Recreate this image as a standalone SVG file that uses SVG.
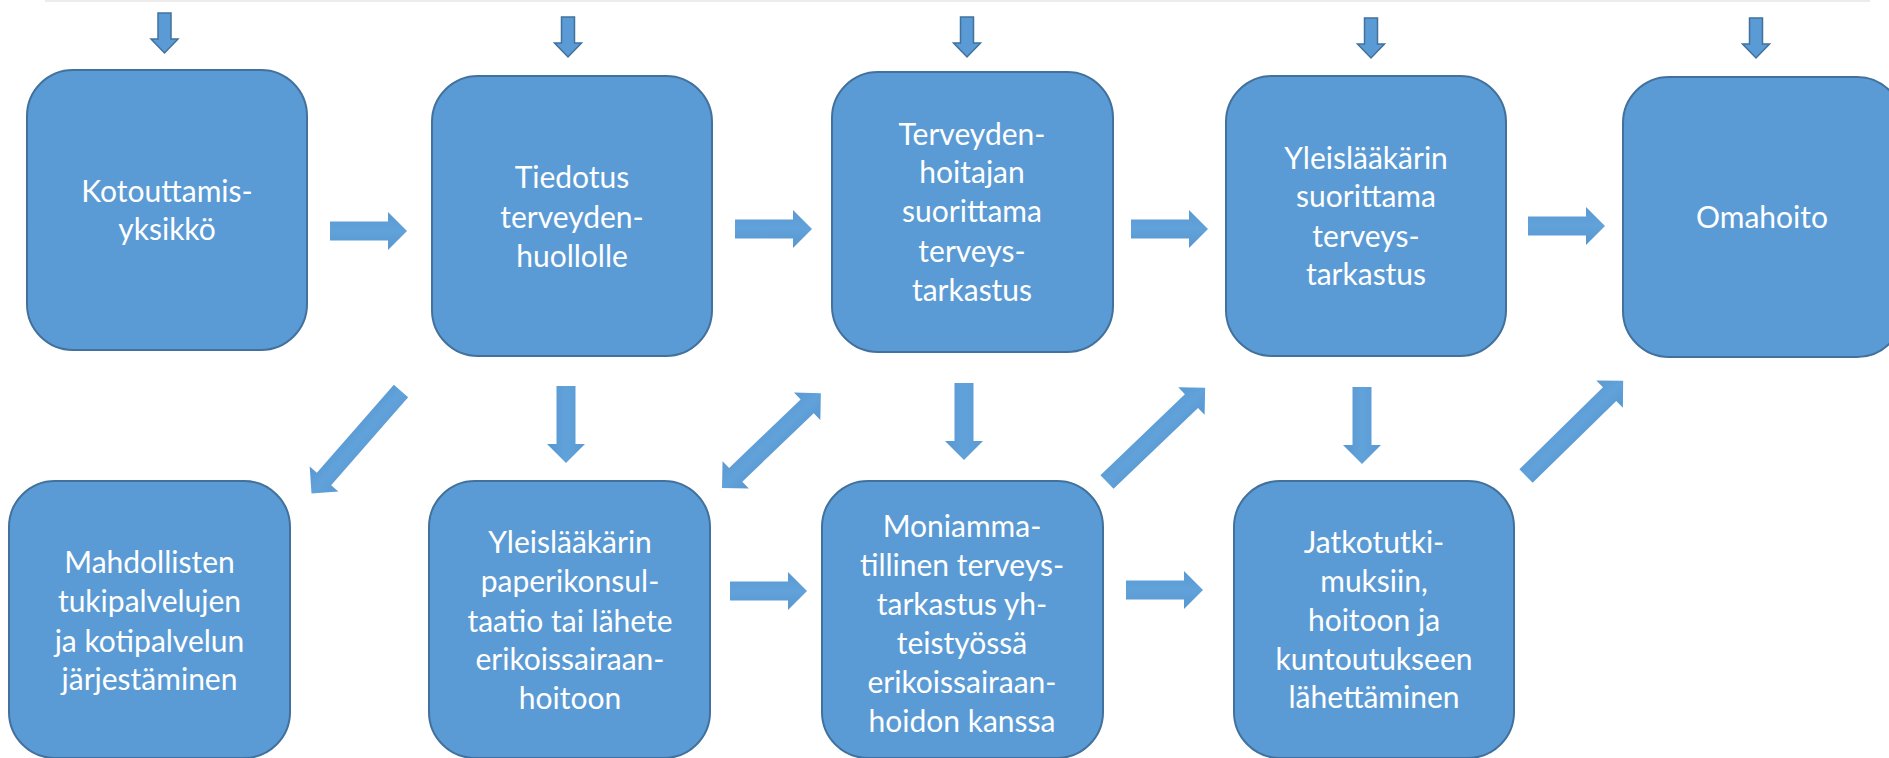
<svg xmlns="http://www.w3.org/2000/svg" xmlns:xlink="http://www.w3.org/1999/xlink" width="1889" height="758" viewBox="0 0 1889 758">
<style>
.box{fill:#5B9BD5;stroke:#41719C;stroke-width:2}
.lbl{font-family:Lato,"Liberation Sans",sans-serif;font-size:30px;fill:#ffffff;text-anchor:middle}
.arr{fill:url(#ag)}
.top{fill:#5B9BD5;stroke:#41719C;stroke-width:1.5}
</style>
<defs>
<linearGradient id="ag" x1="0" y1="0" x2="0" y2="1">
<stop offset="0" stop-color="#5a99d2"/>
<stop offset="0.5" stop-color="#62a2db"/>
<stop offset="1" stop-color="#5796cf"/>
</linearGradient>
<path id="harrow" d="M0,-9.5 H58 V-19 L77,0 L58,19 V9.5 H0 Z"/>
<path id="diag" d="M0,-9.5 H117 V-19 L136,0 L117,19 V9.5 H0 Z"/>
<path id="dbl" d="M0,0 L19,-19 V-9.5 H118 V-19 L137,0 L118,19 V9.5 H19 V19 Z"/>
<path id="topdown" d="M-6.5,0 H6.5 V26 H13.5 L0,40 L-13.5,26 H-6.5 Z"/>
</defs>
<rect x="0" y="0" width="1889" height="758" fill="#ffffff"/>
<line x1="45" y1="0.8" x2="1870" y2="0.8" stroke="#ececec" stroke-width="2.5"/>

<g id="connectors">
<use xlink:href="#topdown" class="top" transform="translate(164.5,13)"/>
<use xlink:href="#topdown" class="top" transform="translate(568,17)"/>
<use xlink:href="#topdown" class="top" transform="translate(967,17)"/>
<use xlink:href="#topdown" class="top" transform="translate(1371,18)"/>
<use xlink:href="#topdown" class="top" transform="translate(1756,18)"/>
<use xlink:href="#harrow" class="arr" transform="translate(330,231)"/>
<use xlink:href="#harrow" class="arr" transform="translate(735,229)"/>
<use xlink:href="#harrow" class="arr" transform="translate(1131,229)"/>
<use xlink:href="#harrow" class="arr" transform="translate(1528,226)"/>
<use xlink:href="#harrow" class="arr" transform="translate(730,591)"/>
<use xlink:href="#harrow" class="arr" transform="translate(1126,590)"/>
<use xlink:href="#harrow" class="arr" transform="translate(566,386) rotate(90)"/>
<use xlink:href="#harrow" class="arr" transform="translate(964,383) rotate(90)"/>
<use xlink:href="#harrow" class="arr" transform="translate(1362,387) rotate(90)"/>
<use xlink:href="#diag" class="arr" transform="translate(401,391) rotate(131.15)"/>
<use xlink:href="#dbl" class="arr" transform="translate(722,488) rotate(-43.8)"/>
<use xlink:href="#diag" class="arr" transform="translate(1107,482) rotate(-43.8)"/>
<use xlink:href="#diag" class="arr" transform="translate(1526,476) rotate(-44.4)"/>
</g>

<g id="n1">
<rect class="box" x="27" y="70" width="280" height="280" rx="46"/>
<text class="lbl" x="167" y="202">Kotouttamis-</text>
<text class="lbl" x="167" y="240">yksikkö</text>
</g>
<g id="n2">
<rect class="box" x="432" y="76" width="280" height="280" rx="46"/>
<text class="lbl" x="572" y="188">Tiedotus</text>
<text class="lbl" x="572" y="228">terveyden-</text>
<text class="lbl" x="572" y="267">huollolle</text>
</g>
<g id="n3">
<rect class="box" x="832" y="72" width="281" height="280" rx="46"/>
<text class="lbl" x="972" y="145">Terveyden-</text>
<text class="lbl" x="972" y="183">hoitajan</text>
<text class="lbl" x="972" y="222">suorittama</text>
<text class="lbl" x="972" y="262">terveys-</text>
<text class="lbl" x="972" y="301">tarkastus</text>
</g>
<g id="n4">
<rect class="box" x="1226" y="76" width="280" height="280" rx="46"/>
<text class="lbl" x="1366" y="169">Yleislääkärin</text>
<text class="lbl" x="1366" y="207">suorittama</text>
<text class="lbl" x="1366" y="247">terveys-</text>
<text class="lbl" x="1366" y="285">tarkastus</text>
</g>
<g id="n5">
<rect class="box" x="1623" y="77" width="280" height="280" rx="46"/>
<text class="lbl" x="1762" y="228">Omahoito</text>
</g>
<g id="n6">
<rect class="box" x="9" y="481" width="281" height="277" rx="46"/>
<text class="lbl" x="149.5" y="573">Mahdollisten</text>
<text class="lbl" x="149.5" y="612">tukipalvelujen</text>
<text class="lbl" x="149.5" y="652">ja kotipalvelun</text>
<text class="lbl" x="149.5" y="690">järjestäminen</text>
</g>
<g id="n7">
<rect class="box" x="429" y="481" width="281" height="277" rx="46"/>
<text class="lbl" x="570" y="553">Yleislääkärin</text>
<text class="lbl" x="570" y="592">paperikonsul-</text>
<text class="lbl" x="570" y="632">taatio tai lähete</text>
<text class="lbl" x="570" y="670">erikoissairaan-</text>
<text class="lbl" x="570" y="709">hoitoon</text>
</g>
<g id="n8">
<rect class="box" x="822" y="481" width="281" height="277" rx="46"/>
<text class="lbl" x="962" y="537">Moniamma-</text>
<text class="lbl" x="962" y="576">tillinen terveys-</text>
<text class="lbl" x="962" y="615">tarkastus yh-</text>
<text class="lbl" x="962" y="654">teistyössä</text>
<text class="lbl" x="962" y="693">erikoissairaan-</text>
<text class="lbl" x="962" y="732">hoidon kanssa</text>
</g>
<g id="n9">
<rect class="box" x="1234" y="481" width="280" height="277" rx="46"/>
<text class="lbl" x="1374" y="553">Jatkotutki-</text>
<text class="lbl" x="1374" y="592">muksiin,</text>
<text class="lbl" x="1374" y="631">hoitoon ja</text>
<text class="lbl" x="1374" y="670">kuntoutukseen</text>
<text class="lbl" x="1374" y="708">lähettäminen</text>
</g>
</svg>
